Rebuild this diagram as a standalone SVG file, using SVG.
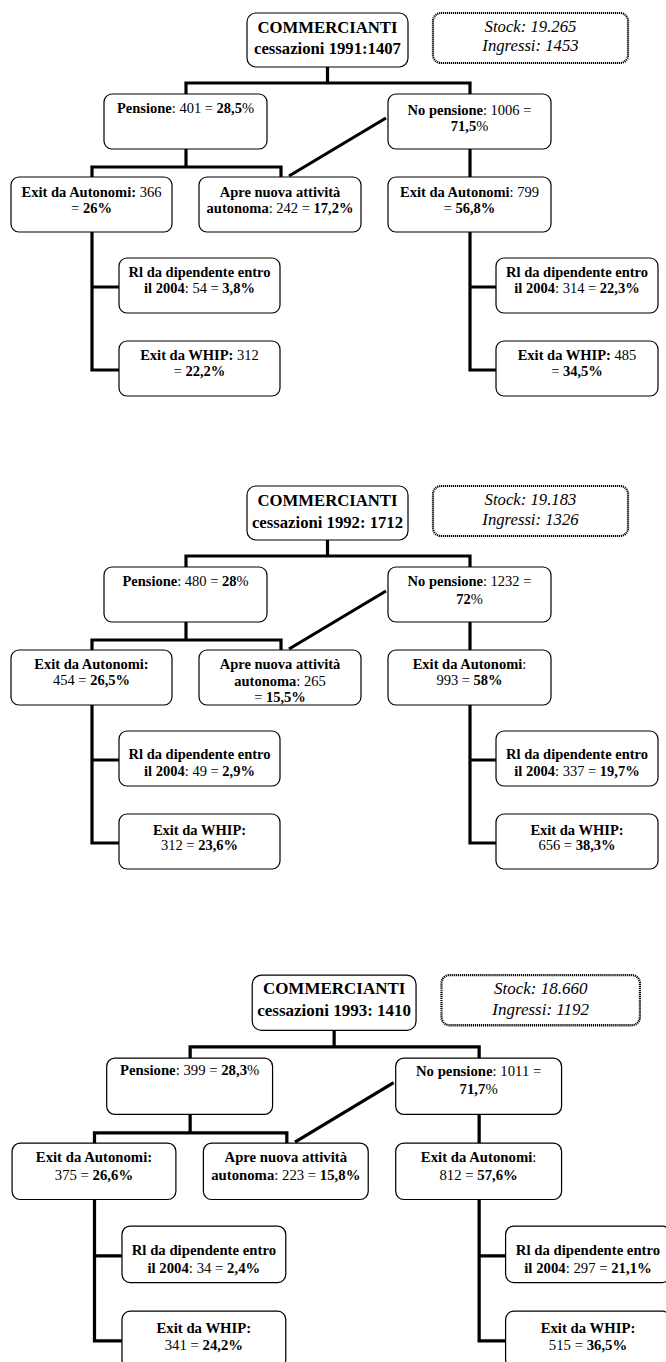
<svg xmlns="http://www.w3.org/2000/svg" width="666" height="1362" viewBox="0 0 666 1362">
<style>
.box{fill:#fff;stroke:#000;stroke-width:1.2}
.note{fill:#fff;stroke:#000;stroke-width:2.2;stroke-dasharray:1.2 0.8}
.conn{fill:none;stroke:#000;stroke-width:3.2;stroke-linejoin:miter}
text{font-family:"Liberation Serif","Times New Roman",serif;font-size:14.5px;text-anchor:middle;fill:#000}
.title{font-size:16.7px;font-weight:bold}
.it{font-style:italic;font-size:16.7px}
.b{font-weight:bold}
</style>
<rect width="666" height="1362" fill="#fff"/>

<!-- ===== 1991 ===== -->
<g id="d1991">
<g id="conn-1991">
<path class="conn" d="M327.5 67V83M186 94V83H470V94M186 149V167M92 177V167H281V177M289 176L386 118M470 149V177M92 232V370H119M92 287H119M470 232V370H496M470 287H496"/>
</g>
<g id="n1991-top"><rect class="box" x="247" y="13" width="161" height="54" rx="9"/>
<text class="title" x="327.5" y="32.5">COMMERCIANTI</text><text class="title" x="327.5" y="54">cessazioni 1991:1407</text></g>
<g id="n1991-stock"><rect class="note" x="433" y="13" width="195" height="50" rx="8"/>
<text class="it" x="530.5" y="32">Stock: 19.265</text><text class="it" x="530.5" y="51">Ingressi: 1453</text></g>
<g id="n1991-pens"><rect class="box" x="104" y="94" width="163" height="55" rx="8"/>
<text x="185.5" y="113"><tspan class="b">Pensione</tspan>: 401 = <tspan class="b">28,5</tspan>%</text></g>
<g id="n1991-nopens"><rect class="box" x="388" y="94" width="163" height="55" rx="8"/>
<text x="469.5" y="115"><tspan class="b">No pensione</tspan>: 1006 =</text><text x="469.5" y="131"><tspan class="b">71,5</tspan>%</text></g>
<g id="n1991-exitL"><rect class="box" x="11" y="177" width="161" height="55" rx="8"/>
<text x="91.5" y="197"><tspan class="b">Exit da Autonomi:</tspan> 366</text><text x="91.5" y="212.5">= <tspan class="b">26%</tspan></text></g>
<g id="n1991-apre"><rect class="box" x="199" y="177" width="162" height="55" rx="8"/>
<text class="b" x="280" y="197">Apre nuova attività</text><text x="280" y="212.5"><tspan class="b">autonoma</tspan>: 242 = <tspan class="b">17,2%</tspan></text></g>
<g id="n1991-exitR"><rect class="box" x="388" y="177" width="163" height="55" rx="8"/>
<text x="469.5" y="197"><tspan class="b">Exit da Autonomi</tspan>: 799</text><text x="469.5" y="212.5">= <tspan class="b">56,8%</tspan></text></g>
<g id="n1991-rlL"><rect class="box" x="119" y="258" width="161" height="55" rx="8"/>
<text class="b" x="199.5" y="277">Rl da dipendente entro</text><text x="199.5" y="293"><tspan class="b">il 2004</tspan>: 54 = <tspan class="b">3,8%</tspan></text></g>
<g id="n1991-whipL"><rect class="box" x="119" y="341" width="161" height="55" rx="8"/>
<text x="199.5" y="359.5"><tspan class="b">Exit da WHIP:</tspan> 312</text><text x="199.5" y="376">= <tspan class="b">22,2%</tspan></text></g>
<g id="n1991-rlR"><rect class="box" x="496" y="258" width="162" height="55" rx="8"/>
<text class="b" x="577" y="277">Rl da dipendente entro</text><text x="577" y="293"><tspan class="b">il 2004</tspan>: 314 = <tspan class="b">22,3%</tspan></text></g>
<g id="n1991-whipR"><rect class="box" x="496" y="341" width="162" height="55" rx="8"/>
<text x="577" y="359.5"><tspan class="b">Exit da WHIP:</tspan> 485</text><text x="577" y="376">= <tspan class="b">34,5%</tspan></text></g>
</g>

<!-- ===== 1992 ===== -->
<g id="d1992" transform="translate(0,473)">
<g id="conn-1992">
<path class="conn" d="M327.5 67V83M186 94V83H470V94M186 149V167M92 177V167H281V177M289 176L386 118M470 149V177M92 232V370H119M92 287H119M470 232V370H496M470 287H496"/>
</g>
<g id="n1992-top"><rect class="box" x="247" y="13" width="161" height="54" rx="9"/>
<text class="title" x="327.5" y="32.5">COMMERCIANTI</text><text class="title" x="327.5" y="54.5">cessazioni 1992: 1712</text></g>
<g id="n1992-stock"><rect class="note" x="433" y="13" width="195" height="50" rx="8"/>
<text class="it" x="530.5" y="32">Stock: 19.183</text><text class="it" x="530.5" y="51.5">Ingressi: 1326</text></g>
<g id="n1992-pens"><rect class="box" x="104" y="94" width="163" height="55" rx="8"/>
<text x="185.5" y="112.5"><tspan class="b">Pensione</tspan>: 480 = <tspan class="b">28</tspan>%</text></g>
<g id="n1992-nopens"><rect class="box" x="388" y="94" width="163" height="55" rx="8"/>
<text x="469.5" y="113"><tspan class="b">No pensione</tspan>: 1232 =</text><text x="469.5" y="130.5"><tspan class="b">72</tspan>%</text></g>
<g id="n1992-exitL"><rect class="box" x="11" y="177" width="161" height="55" rx="8"/>
<text class="b" x="91.5" y="195.5">Exit da Autonomi:</text><text x="91.5" y="212">454 = <tspan class="b">26,5%</tspan></text></g>
<g id="n1992-apre"><rect class="box" x="199" y="177" width="162" height="55" rx="8"/>
<text class="b" x="280" y="195.5">Apre nuova attività</text><text x="280" y="212.5"><tspan class="b">autonoma</tspan>: 265</text><text x="280" y="229">= <tspan class="b">15,5%</tspan></text></g>
<g id="n1992-exitR"><rect class="box" x="388" y="177" width="163" height="55" rx="8"/>
<text x="469.5" y="195.5"><tspan class="b">Exit da Autonomi</tspan>:</text><text x="469.5" y="212">993 = <tspan class="b">58%</tspan></text></g>
<g id="n1992-rlL"><rect class="box" x="119" y="258" width="161" height="55" rx="8"/>
<text class="b" x="199.5" y="286">Rl da dipendente entro</text><text x="199.5" y="303"><tspan class="b">il 2004</tspan>: 49 = <tspan class="b">2,9%</tspan></text></g>
<g id="n1992-whipL"><rect class="box" x="119" y="341" width="161" height="55" rx="8"/>
<text class="b" x="199.5" y="361.5">Exit da WHIP:</text><text x="199.5" y="377">312 = <tspan class="b">23,6%</tspan></text></g>
<g id="n1992-rlR"><rect class="box" x="496" y="258" width="162" height="55" rx="8"/>
<text class="b" x="577" y="286">Rl da dipendente entro</text><text x="577" y="303"><tspan class="b">il 2004</tspan>: 337 = <tspan class="b">19,7%</tspan></text></g>
<g id="n1992-whipR"><rect class="box" x="496" y="341" width="162" height="55" rx="8"/>
<text class="b" x="577" y="361.5">Exit da WHIP:</text><text x="577" y="377">656 = <tspan class="b">38,3%</tspan></text></g>
</g>

<!-- ===== 1993 ===== -->
<g id="d1993" transform="translate(0.87,961.7) scale(1.0176,1.025)">
<g id="conn-1993">
<path class="conn" d="M327.5 67V83M186 94V83H470V94M186 149V167M92 177V167H281V177M289 176L386 118M470 149V177M92 232V370H119M92 287H119M470 232V370H496M470 287H496"/>
</g>
<g id="n1993-top"><rect class="box" x="247" y="13" width="161" height="54" rx="9"/>
<text class="title" x="327.5" y="32">COMMERCIANTI</text><text class="title" x="327.5" y="52.5">cessazioni 1993: 1410</text></g>
<g id="n1993-stock"><rect class="note" x="433" y="13" width="195" height="49" rx="8"/>
<text class="it" x="530.5" y="31.5">Stock: 18.660</text><text class="it" x="530.5" y="52">Ingressi: 1192</text></g>
<g id="n1993-pens"><rect class="box" x="104" y="94" width="163" height="55" rx="8"/>
<text x="185.5" y="111"><tspan class="b">Pensione</tspan>: 399 = <tspan class="b">28,3</tspan>%</text></g>
<g id="n1993-nopens"><rect class="box" x="388" y="94" width="163" height="55" rx="8"/>
<text x="469.5" y="112"><tspan class="b">No pensione</tspan>: 1011 =</text><text x="469.5" y="129.5"><tspan class="b">71,7</tspan>%</text></g>
<g id="n1993-exitL"><rect class="box" x="11" y="177" width="161" height="55" rx="8"/>
<text class="b" x="91.5" y="195.5">Exit da Autonomi:</text><text x="91.5" y="212.5">375 = <tspan class="b">26,6%</tspan></text></g>
<g id="n1993-apre"><rect class="box" x="199" y="177" width="162" height="55" rx="8"/>
<text class="b" x="280" y="195.5">Apre nuova attività</text><text x="280" y="212.5"><tspan class="b">autonoma</tspan>: 223 = <tspan class="b">15,8%</tspan></text></g>
<g id="n1993-exitR"><rect class="box" x="388" y="177" width="163" height="55" rx="8"/>
<text x="469.5" y="195.5"><tspan class="b">Exit da Autonomi</tspan>:</text><text x="469.5" y="212.5">812 = <tspan class="b">57,6%</tspan></text></g>
<g id="n1993-rlL"><rect class="box" x="119" y="258" width="161" height="55" rx="8"/>
<text class="b" x="199.5" y="286">Rl da dipendente entro</text><text x="199.5" y="303.5"><tspan class="b">il 2004</tspan>: 34 = <tspan class="b">2,4%</tspan></text></g>
<g id="n1993-whipL"><rect class="box" x="119" y="341" width="161" height="55" rx="8"/>
<text class="b" x="199.5" y="362">Exit da WHIP:</text><text x="199.5" y="379">341 = <tspan class="b">24,2%</tspan></text></g>
<g id="n1993-rlR"><rect class="box" x="496" y="258" width="162" height="55" rx="8"/>
<text class="b" x="577" y="286">Rl da dipendente entro</text><text x="577" y="303.5"><tspan class="b">il 2004</tspan>: 297 = <tspan class="b">21,1%</tspan></text></g>
<g id="n1993-whipR"><rect class="box" x="496" y="341" width="162" height="55" rx="8"/>
<text class="b" x="577" y="362">Exit da WHIP:</text><text x="577" y="379">515 = <tspan class="b">36,5%</tspan></text></g>
</g>
</svg>
